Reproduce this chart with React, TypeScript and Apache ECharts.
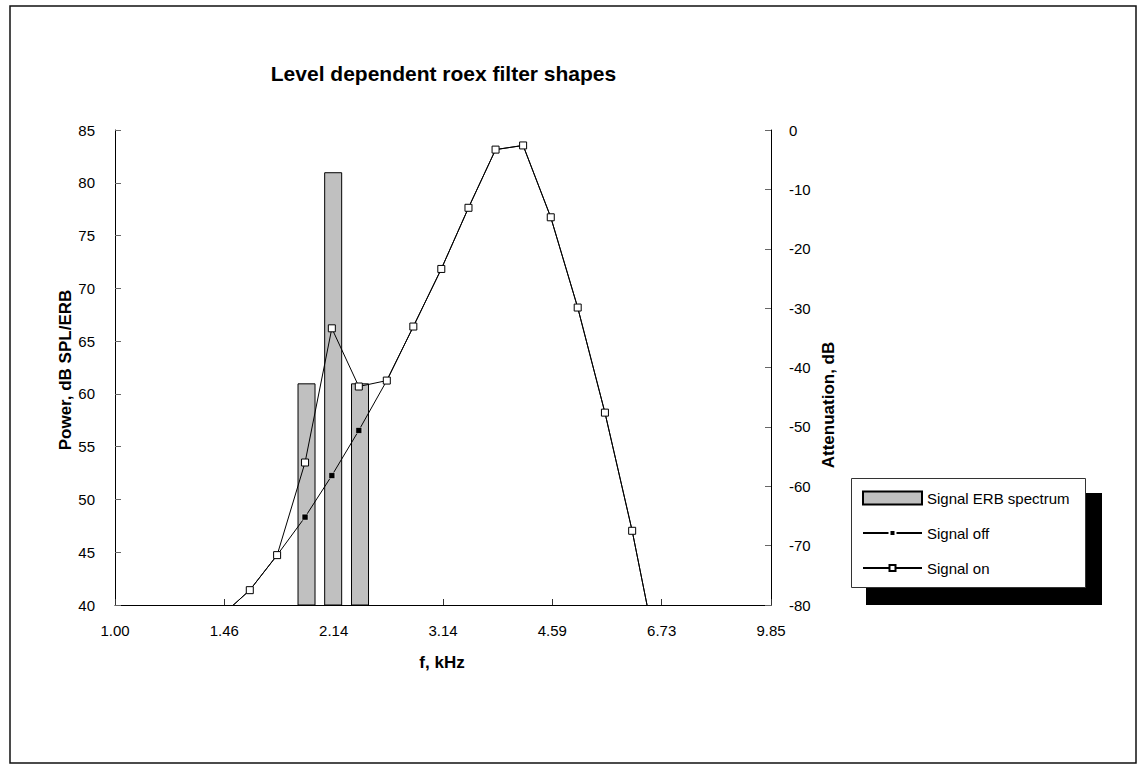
import React, { useEffect, useRef } from "react";
import * as echarts from "echarts";

// ---- data ----
const tickLabels = ["1.00", "1.46", "2.14", "3.14", "4.59", "6.73", "9.85"];
const freqKHz = [1.45, 1.6, 1.76, 1.94, 2.13, 2.34, 2.58, 2.83, 3.12, 3.43, 3.77, 4.15, 4.57, 5.02, 5.52, 6.07, 6.68];
const signalOn = [-81.8, -77.5, -71.6, -56.0, -33.4, -43.2, -42.2, -33.1, -23.4, -13.1, -3.3, -2.6, -14.7, -29.9, -47.6, -67.5, -90.6];
const signalOff = [-81.8, -77.5, -71.6, -65.2, -58.2, -50.6, -42.2, -33.1, -23.4, -13.1, -3.3, -2.6, -14.7, -29.9, -47.6, -67.5, -90.6];
const bandFreqKHz = [1.95, 2.14, 2.35];
const bandPower = [61, 81, 61];
const powerTicks = { min: 40, max: 85, step: 5 };
const attenTicks = { min: -80, max: 0, step: 10 };

const FONT = "'Liberation Sans', Arial, Helvetica, sans-serif";
const LOG_BASE = Math.pow(9.85, 1 / 6);

export default function App() {
  const ref = useRef<HTMLDivElement>(null);
  useEffect(() => {
    document.body.style.margin = "0";
    const chart = echarts.init(ref.current!, null, { renderer: "svg" });
    const legendText = { fontFamily: FONT, fontSize: 15, color: "#000", lineHeight: 16 };
    const option: any = {
      animation: false,
      backgroundColor: "#fff",
      textStyle: { fontFamily: FONT },
      grid: { left: 115, top: 130, width: 656, height: 475, show: false, containLabel: false },
      xAxis: {
        type: "log",
        logBase: LOG_BASE,
        min: 1,
        max: 9.85,
        interval: 1,
        axisLine: { show: true, onZero: false, lineStyle: { color: "#000", width: 1 } },
        axisTick: { show: true, inside: true, length: 6, lineStyle: { color: "#333" } },
        splitLine: { show: false },
        minorTick: { show: false },
        axisLabel: {
          fontSize: 15,
          color: "#000",
          margin: 18,
          fontFamily: FONT,
          formatter: (v: number) => {
            const i = Math.round(Math.log(v) / Math.log(LOG_BASE));
            return tickLabels[i] ?? "";
          },
        },
      },
      yAxis: [
        {
          type: "value",
          min: powerTicks.min,
          max: powerTicks.max,
          interval: powerTicks.step,
          position: "left",
          axisLine: { show: true, lineStyle: { color: "#000", width: 1 } },
          axisTick: { show: true, inside: true, length: 6, lineStyle: { color: "#666" } },
          splitLine: { show: false },
          axisLabel: { fontSize: 15, color: "#000", margin: 20, fontFamily: FONT },
        },
        {
          type: "value",
          min: attenTicks.min,
          max: attenTicks.max,
          interval: attenTicks.step,
          position: "right",
          axisLine: { show: true, lineStyle: { color: "#000", width: 1 } },
          axisTick: { show: true, inside: true, length: 6, lineStyle: { color: "#666" } },
          splitLine: { show: false },
          axisLabel: { fontSize: 15, color: "#000", margin: 18, fontFamily: FONT },
        },
      ],
      legend: [
        {
          data: [{ name: "Signal ERB spectrum", icon: "rect" }],
          orient: "vertical",
          left: 862,
          top: 490,
          padding: 0,
          itemWidth: 59,
          itemHeight: 13,
          itemGap: 0,
          textStyle: legendText,
          selectedMode: false,
          z: 10,
        },
        {
          data: ["Signal off"],
          orient: "vertical",
          left: 862,
          top: 525,
          padding: 0,
          itemWidth: 59,
          itemHeight: 7.5,
          itemGap: 0,
          textStyle: legendText,
          selectedMode: false,
          z: 10,
        },
        {
          data: ["Signal on"],
          orient: "vertical",
          left: 862,
          top: 560,
          padding: 0,
          itemWidth: 59,
          itemHeight: 7.5,
          itemGap: 0,
          textStyle: legendText,
          selectedMode: false,
          z: 10,
        },
      ],
      graphic: [
        {
          type: "rect",
          z: 0,
          silent: true,
          shape: { x: 10, y: 6, width: 1126, height: 757 },
          style: { fill: "none", stroke: "#111", lineWidth: 1.5 },
        },
        {
          type: "rect",
          z: 1,
          silent: true,
          shape: { x: 866, y: 493, width: 236, height: 112 },
          style: { fill: "#000" },
        },
        {
          type: "rect",
          z: 2,
          silent: true,
          shape: { x: 851.5, y: 478.5, width: 234, height: 109 },
          style: { fill: "#fff", stroke: "#333", lineWidth: 1 },
        },
        {
          type: "text",
          z: 3,
          silent: true,
          x: 443.5,
          y: 73,
          style: { text: "Level dependent roex filter shapes", fontFamily: FONT, fontSize: 21, fontWeight: "bold", fill: "#000", align: "center", verticalAlign: "middle" },
        },
        {
          type: "text",
          z: 3,
          silent: true,
          x: 65,
          y: 370,
          rotation: Math.PI / 2,
          style: { text: "Power, dB SPL/ERB", fontFamily: FONT, fontSize: 17, fontWeight: "bold", fill: "#000", align: "center", verticalAlign: "middle" },
        },
        {
          type: "text",
          z: 3,
          silent: true,
          x: 828,
          y: 405,
          rotation: Math.PI / 2,
          style: { text: "Attenuation, dB", fontFamily: FONT, fontSize: 17, fontWeight: "bold", fill: "#000", align: "center", verticalAlign: "middle" },
        },
        {
          type: "text",
          z: 3,
          silent: true,
          x: 442,
          y: 662,
          style: { text: "f, kHz", fontFamily: FONT, fontSize: 17, fontWeight: "bold", fill: "#000", align: "center", verticalAlign: "middle" },
        },
      ],
      series: [
        {
          name: "Signal ERB spectrum",
          type: "bar",
          yAxisIndex: 0,
          barWidth: 18,
          clip: true,
          data: bandFreqKHz.map((f, i) => [f, bandPower[i]]),
          itemStyle: { color: "#c0c0c0", borderColor: "#000", borderWidth: 1 },
        },
        {
          name: "Signal off",
          type: "line",
          yAxisIndex: 1,
          clip: true,
          symbol: "rect",
          symbolSize: 6,
          showAllSymbol: true,
          data: freqKHz.map((f, i) => [f, signalOff[i]]),
          itemStyle: { color: "#000", borderColor: "#fff", borderWidth: 0.5 },
          lineStyle: { color: "#000", width: 1 },
          z: 3,
        },
        {
          name: "Signal on",
          type: "line",
          yAxisIndex: 1,
          clip: true,
          symbol: "rect",
          symbolSize: 7,
          showAllSymbol: true,
          data: freqKHz.map((f, i) => [f, signalOn[i]]),
          itemStyle: { color: "#fff", borderColor: "#000", borderWidth: 1 },
          lineStyle: { color: "#000", width: 1 },
          z: 4,
        },
      ],
    };
    chart.setOption(option);
    return () => chart.dispose();
  }, []);
  return <div ref={ref} style={{ width: 1137, height: 765 }} />;
}
